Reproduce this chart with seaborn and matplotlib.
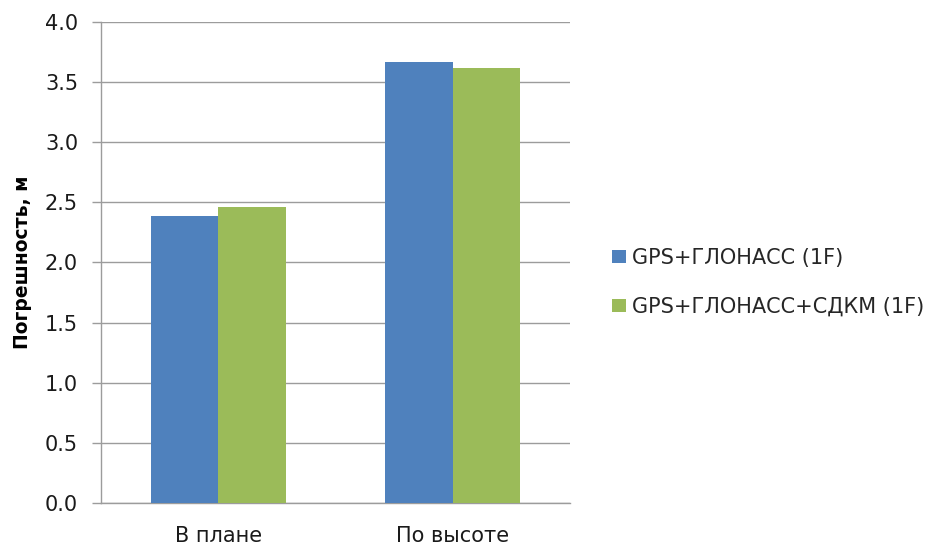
import matplotlib
matplotlib.use("Agg")
import matplotlib.pyplot as plt
from matplotlib.patches import Patch
import seaborn as sns
import pandas as pd

categories = ["В плане", "По высоте"]
series_names = ["GPS+ГЛОНАСС (1F)", "GPS+ГЛОНАСС+СДКМ (1F)"]
gps_glonass = [2.39, 3.67]
gps_glonass_sdkm = [2.46, 3.62]
y_ticks = [0.0, 0.5, 1.0, 1.5, 2.0, 2.5, 3.0, 3.5, 4.0]
colors = ["#4F81BD", "#9BBB59"]

df = pd.DataFrame({
    "category": categories * 2,
    "series": [series_names[0]] * 2 + [series_names[1]] * 2,
    "value": gps_glonass + gps_glonass_sdkm,
})

sns.set_theme(style="white")
plt.rcParams["font.family"] = ["DejaVu Sans"]

fig = plt.figure(figsize=(9.28, 5.46), dpi=100)
ax = fig.add_axes([0.1088, 0.0788, 0.5055, 0.881])

sns.barplot(data=df, x="category", y="value", hue="series",
            palette=colors, width=0.575, gap=0, saturation=1,
            errorbar=None, legend=False, ax=ax, zorder=3, linewidth=0)

grid_color = "#9C9C9C"
text_color = "#1A1A1A"
fs = 15
ax.set_ylim(0, 4.0)
ax.set_xlim(-0.5, 1.5)
ax.set_yticks(y_ticks)
ax.set_yticklabels([f"{t:.1f}" for t in y_ticks], fontsize=fs, color=text_color)
ax.yaxis.grid(True, color=grid_color, linewidth=1.0, zorder=0)
ax.set_axisbelow(True)

ax.set_xticks([0, 1])
ax.set_xticklabels(categories, fontsize=fs, color=text_color)
ax.tick_params(axis="x", which="major", length=0, pad=16.5)
ax.set_xticks([-0.5, 0.5, 1.5], minor=True)
ax.tick_params(axis="x", which="minor", length=6.5, width=1, color=grid_color, direction="out")
ax.tick_params(axis="y", which="major", length=6.5, width=1, color=grid_color,
               direction="out", left=True, pad=10)

for side in ["top", "right"]:
    ax.spines[side].set_visible(False)
for side in ["left", "bottom"]:
    ax.spines[side].set_color(grid_color)
    ax.spines[side].set_linewidth(1.0)

ax.set_xlabel("")
ax.set_ylabel("Погрешность, м", fontsize=13.5, fontweight="bold", color="#000000")
ax.yaxis.set_label_coords(-0.148, 0.5)

handles = [Patch(facecolor=c, edgecolor="none") for c in colors]
fig.legend(handles, series_names, loc="center left", bbox_to_anchor=(0.651, 0.483),
           frameon=False, fontsize=fs, handlelength=0.63, handleheight=0.63,
           handletextpad=0.3, labelspacing=1.4, borderaxespad=0)

fig.savefig("out.png", dpi=100)
